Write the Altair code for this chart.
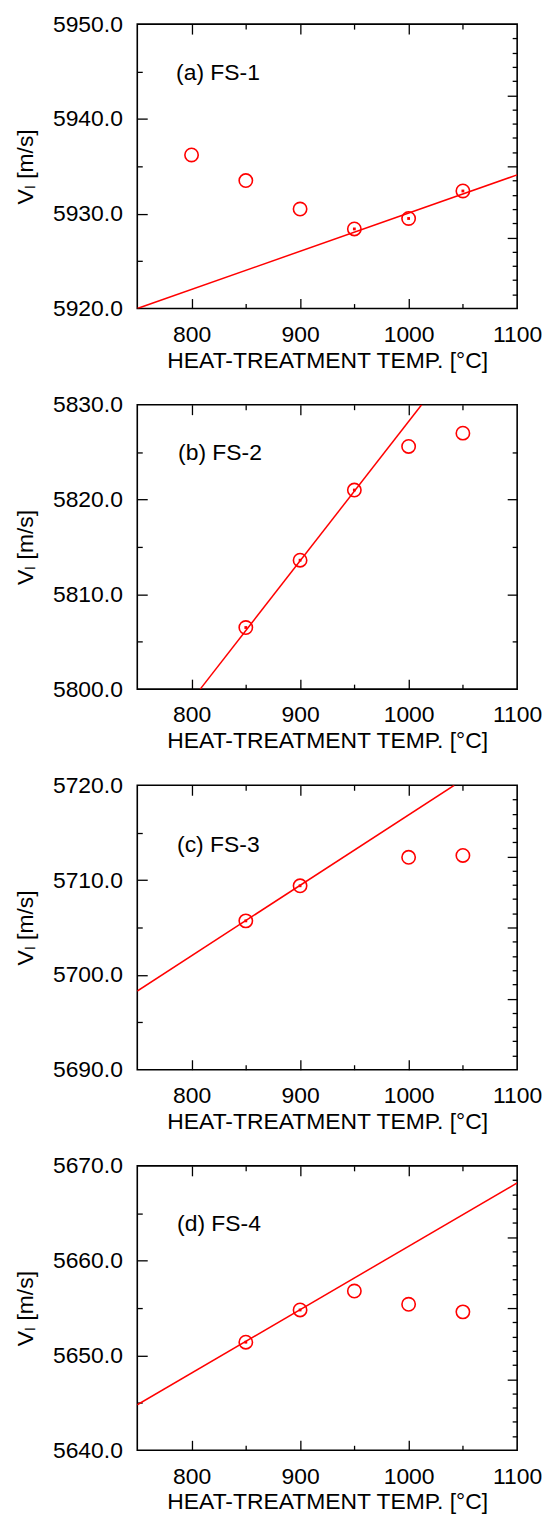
import altair as alt
import pandas as pd

# ---------------- data ----------------
TEMPS_A = [800, 850, 900, 950, 1000, 1050]
VELS_A = [5936.2, 5933.5, 5930.5, 5928.4, 5929.5, 5932.4]
FIT_A = [False, False, False, True, True, True]

TEMPS_B = [850, 900, 950, 1000, 1050]
VELS_B = [5806.5, 5813.6, 5821.0, 5825.6, 5827.0]
FIT_B = [True, True, True, False, False]

TEMPS_C = [850, 900, 1000, 1050]
VELS_C = [5705.7, 5709.4, 5712.4, 5712.6]
FIT_C = [True, True, False, False]

TEMPS_D = [850, 900, 950, 1000, 1050]
VELS_D = [5651.4, 5654.8, 5656.8, 5655.4, 5654.6]
FIT_D = [True, True, False, False, False]

# fitted straight lines (end points)
LINE_T = [[750, 1100], [808, 1012], [750, 1042], [750, 1100]]
LINE_V = [[5920.0, 5934.1], [5800.0, 5830.0], [5698.3, 5720.0], [5644.8, 5668.2]]

Y_DOMAINS = [[5920, 5950], [5800, 5830], [5690, 5720], [5640, 5670]]
Y_LABEL_TICKS = [
    [5920, 5930, 5940, 5950],
    [5800, 5810, 5820, 5830],
    [5690, 5700, 5710, 5720],
    [5640, 5650, 5660, 5670],
]
Y_LEFT_MAJOR = [[5930, 5940], [5810, 5820], [5700, 5710], [5650, 5660]]
Y_LEFT_MINOR = [
    [5925, 5935, 5945],
    [5805, 5815, 5825],
    [5695, 5705, 5715],
    [5645, 5655, 5665],
]
Y_RIGHT_MAJOR = [
    [5927.5, 5935, 5942.5],
    [5810, 5820],
    [5697.5, 5705, 5712.5],
    [5647.5, 5655, 5662.5],
]
Y_RIGHT_MINOR = [
    [5921.5, 5923, 5924.5, 5926, 5929, 5930.5, 5932, 5933.5,
     5936.5, 5938, 5939.5, 5941, 5944, 5945.5, 5947, 5948.5],
    [5805, 5815, 5825],
    [5691.5, 5693, 5694.5, 5696, 5699, 5700.5, 5702, 5703.5,
     5706.5, 5708, 5709.5, 5711, 5714, 5715.5, 5717, 5718.5],
    [5641.5, 5643, 5644.5, 5646, 5649, 5650.5, 5652, 5653.5,
     5656.5, 5658, 5659.5, 5661, 5664, 5665.5, 5667, 5668.5],
]

X_DOMAIN = [750, 1100]
X_LABEL_TICKS = [800, 900, 1000, 1100]
X_MAJOR = [800, 900, 1000]
X_MINOR = [850, 950, 1050]

PANEL_LABELS = ["(a) FS-1", "(b) FS-2", "(c) FS-3", "(d) FS-4"]
X_TITLE = "HEAT-TREATMENT TEMP. [°C]"
Y_TITLE = "Vₗ [m/s]"

SERIES = [
    (TEMPS_A, VELS_A, FIT_A),
    (TEMPS_B, VELS_B, FIT_B),
    (TEMPS_C, VELS_C, FIT_C),
    (TEMPS_D, VELS_D, FIT_D),
]

# ---------------- style ----------------
RED = "#ff0000"
FONT = "Liberation Sans"
W, H = 382, 286
LABEL_POS = [(39, 49), (41, 49), (40, 60), (40, 58)]


def tick_axis(orient, values, size):
    return alt.Axis(
        orient=orient, values=values, ticks=True, tickSize=size, offset=-size,
        labels=False, domain=False, grid=False, title=None,
        tickColor="black", tickWidth=1.3,
    )


def panel(i):
    temps, vels, fit = SERIES[i]
    pts = pd.DataFrame({"t": temps, "v": vels, "fit": fit})
    fitpts = pts[pts["fit"]]
    line = pd.DataFrame({"t": LINE_T[i], "v": LINE_V[i]})

    xs = alt.Scale(domain=X_DOMAIN, nice=False, zero=False)
    ys = alt.Scale(domain=Y_DOMAINS[i], nice=False, zero=False)

    x_main = alt.Axis(
        orient="bottom", values=X_LABEL_TICKS, format="d", ticks=False, tickSize=0,
        domain=False, grid=False, labelPadding=15, labelFlush=False, labelOverlap=False,
        title=X_TITLE, titlePadding=3,
    )
    y_main = alt.Axis(
        orient="left", values=Y_LABEL_TICKS[i], format=".1f", ticks=False, tickSize=0,
        domain=False, grid=False, labelPadding=15, labelFlush=False, labelOverlap=False,
        title=Y_TITLE, titlePadding=15,
    )

    circles = alt.Chart(pts).mark_point(
        shape="circle", filled=False, size=180, strokeWidth=1.6, color=RED, opacity=1
    ).encode(
        x=alt.X("t:Q", scale=xs, axis=x_main),
        y=alt.Y("v:Q", scale=ys, axis=y_main),
    )
    fitline = alt.Chart(line).mark_line(color=RED, strokeWidth=1.5, clip=True).encode(
        x=alt.X("t:Q", scale=xs, axis=tick_axis("bottom", X_MAJOR, 10)),
        y=alt.Y("v:Q", scale=ys, axis=tick_axis("left", Y_LEFT_MAJOR[i], 10)),
    )
    dots = alt.Chart(fitpts).mark_square(size=8, color=RED, opacity=1).encode(
        x=alt.X("t:Q", scale=xs, axis=tick_axis("bottom", X_MINOR, 5)),
        y=alt.Y("v:Q", scale=ys, axis=tick_axis("left", Y_LEFT_MINOR[i], 5)),
    )
    top_major = alt.Chart(pts).mark_point(opacity=0).encode(
        x=alt.X("t:Q", scale=xs, axis=tick_axis("top", X_MAJOR, 10)),
        y=alt.Y("v:Q", scale=ys, axis=tick_axis("right", Y_RIGHT_MAJOR[i], 10)),
    )
    top_minor = alt.Chart(pts).mark_point(opacity=0).encode(
        x=alt.X("t:Q", scale=xs, axis=tick_axis("top", X_MINOR, 5)),
        y=alt.Y("v:Q", scale=ys, axis=tick_axis("right", Y_RIGHT_MINOR[i], 5)),
    )
    lx, ly = LABEL_POS[i]
    label = alt.Chart(alt.Data(values=[{"s": PANEL_LABELS[i]}])).mark_text(
        align="left", baseline="middle", fontSize=23, font=FONT, color="black"
    ).encode(text="s:N", x=alt.value(lx), y=alt.value(ly))

    return alt.layer(circles, fitline, dots, top_major, top_minor, label).resolve_axis(
        x="independent", y="independent"
    ).properties(width=W, height=H)


chart = alt.vconcat(*[panel(i) for i in range(4)], spacing=96.7, bounds="flush").properties(
    padding={"left": 5, "top": 0, "right": 2, "bottom": 4}
).configure_view(
    stroke="black", strokeWidth=1.6
).configure_axis(
    labelFont=FONT, titleFont=FONT, labelFontSize=23, titleFontSize=23,
    labelColor="black", titleColor="black", titleFontWeight="normal", grid=False,
)

chart.save("out.html", embed_options={"renderer": "svg", "actions": False})
